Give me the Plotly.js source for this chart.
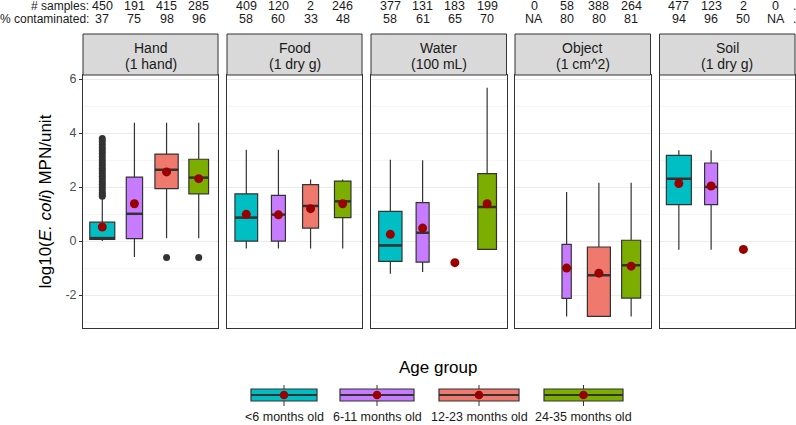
<!DOCTYPE html>
<html>
<head>
<meta charset="utf-8">
<script src="https://cdn.plot.ly/plotly-3.0.1.min.js"></script>
<style>
	html, body { margin: 0; padding: 0; background: #fff; }
	#chart { width: 796px; height: 425px; }
</style>
</head>
<body>
<div id="chart"></div>
<script>
// panels and groups
const panels = ['Hand', 'Food', 'Water', 'Object', 'Soil'];
const panelUnits = ['(1 hand)', '(1 dry g)', '(100 mL)', '(1 cm^2)', '(1 dry g)'];
const ageGroups = ['<6 months old', '6-11 months old', '12-23 months old', '24-35 months old'];

// header counts, one row per panel
const nSamples = [
	['450', '191', '415', '285'],
	['409', '120', '2', '246'],
	['377', '131', '183', '199'],
	['0', '58', '388', '264'],
	['477', '123', '2', '0']
];
const pctContaminated = [
	['37', '75', '98', '96'],
	['58', '60', '33', '48'],
	['58', '61', '65', '70'],
	['NA', '80', '80', '81'],
	['94', '96', '50', 'NA']
];

// box statistics, log10 MPN/unit (null = no box)
const lowerWhisker = [
	[0.0, -0.59, 0.1, 0.1],
	[-0.28, -0.28, -0.28, -0.28],
	[-1.21, -1.15, null, -0.3],
	[null, -2.79, -2.79, -2.79],
	[-0.32, -0.32, null, null]
];
const q1 = [
	[0.06, 0.09, 1.94, 1.75],
	[0.0, 0.0, 0.48, 0.87],
	[-0.75, -0.78, null, -0.31],
	[null, -2.12, -2.79, -2.11],
	[1.35, 1.35, null, null]
];
const median = [
	[0.11, 1.01, 2.64, 2.35],
	[0.87, 0.98, 1.3, 1.47],
	[-0.16, 0.31, null, 1.26],
	[null, -1.0, -1.27, -0.9],
	[2.31, 2.0, null, null]
];
const q3 = [
	[0.7, 2.37, 3.22, 3.03],
	[1.75, 1.69, 2.09, 2.22],
	[1.1, 1.42, null, 2.5],
	[null, -0.12, -0.22, 0.03],
	[3.17, 2.89, null, null]
];
const upperWhisker = [
	[1.6, 4.38, 4.38, 4.38],
	[3.38, 3.38, 2.28, 2.28],
	[3.01, 2.99, null, 5.68],
	[null, 1.82, 2.16, 2.16],
	[3.36, 3.36, null, null]
];
const meanValue = [
	[0.52, 1.38, 2.56, 2.31],
	[0.99, 0.97, 1.2, 1.38],
	[0.25, 0.48, -0.8, 1.38],
	[null, -1.0, -1.19, -0.93],
	[2.13, 2.04, -0.31, null]
];
const outliers = [
	[[3.8, 3.7, 3.58, 3.46, 3.34, 3.24, 3.12, 3.0, 2.9, 2.8, 2.7, 2.6, 2.5, 2.4, 2.3, 2.2, 2.1, 2.0, 1.9, 1.8, 1.72, 1.66], [], [-0.61], [-0.61]],
	[[], [], [], []],
	[[], [], [], []],
	[[], [], [], []],
	[[], [], [], []]
];

// styling
const W = 796, H = 425;
const colors = ['#00BFC4', '#C77CFF', '#F0796D', '#7CAE00'];
const boxWidthPx = [
	[25, 16.3, 23.3, 19.7],
	[22.7, 14, 16, 16.5],
	[23.3, 13, 0, 18.7],
	[0, 9.3, 23, 19],
	[25, 13, 0, 0]
];
const panelX = [[83, 218], [227, 362], [371, 506.5], [515, 650.5], [659.5, 795]];
const panelTop = 75, panelBottom = 328, stripTop = 34;
const keyX = [[251, 317], [340, 414], [439, 519], [544, 623]];
const FONT = 'Liberation Sans, Arial, sans-serif';
const xRange = [0.4, 4.6];
const yRange = [-3.22, 6.15];

function px(x) { return x / W; }
function py(y) { return 1 - y / H; }

function createGraph() {
	let traces = [];
	let layout = {
		width: W,
		height: H,
		margin: {l: 0, r: 0, t: 0, b: 0},
		paper_bgcolor: '#fff',
		plot_bgcolor: '#fff',
		showlegend: false,
		boxmode: 'overlay',
		font: {family: FONT, color: '#1a1a1a'},
		shapes: [],
		annotations: []
	};

	for (let p = 0; p < panels.length; p++) {
		let sfx = p === 0 ? '' : String(p + 1);
		let xa = 'x' + sfx, ya = 'y' + sfx;
		let pxPerUnit = (panelX[p][1] - panelX[p][0]) / (xRange[1] - xRange[0]);

		layout['xaxis' + sfx] = {
			domain: [px(panelX[p][0]), px(panelX[p][1])],
			range: xRange,
			anchor: ya,
			showgrid: false, zeroline: false, showticklabels: false, ticks: '',
			showline: true, mirror: true, linecolor: '#333', linewidth: 1,
			fixedrange: true
		};
		layout['yaxis' + sfx] = {
			domain: [py(panelBottom), py(panelTop)],
			range: yRange,
			anchor: xa,
			tickvals: [-2, 0, 2, 4, 6],
			ticktext: ['-2', '0', '2', '4', '6'],
			showticklabels: p === 0,
			ticks: p === 0 ? 'outside' : '',
			ticklen: 3, tickcolor: '#333', tickwidth: 1,
			tickfont: {family: FONT, size: 12.5, color: '#4d4d4d'},
			showgrid: true, gridcolor: '#ebebeb', gridwidth: 1.1,
			minor: {tickvals: [-3, -1, 1, 3, 5], showgrid: true, gridcolor: '#f2f2f2', gridwidth: 0.7, ticks: ''},
			zeroline: false,
			showline: true, mirror: true, linecolor: '#333', linewidth: 1,
			fixedrange: true
		};

		// strip
		layout.shapes.push({
			type: 'rect', xref: 'paper', yref: 'paper', layer: 'above',
			x0: px(panelX[p][0]), x1: px(panelX[p][1]), y0: py(panelTop), y1: py(stripTop),
			fillcolor: '#d9d9d9', line: {color: '#333', width: 1}
		});
		let cx = px((panelX[p][0] + panelX[p][1]) / 2);
		layout.annotations.push({
			xref: 'paper', yref: 'paper', x: cx, y: py(48), text: panels[p], showarrow: false,
			xanchor: 'center', yanchor: 'middle', font: {size: 14, color: '#1a1a1a'}
		});
		layout.annotations.push({
			xref: 'paper', yref: 'paper', x: cx, y: py(64), text: panelUnits[p], showarrow: false,
			xanchor: 'center', yanchor: 'middle', font: {size: 14, color: '#1a1a1a'}
		});

		for (let g = 0; g < ageGroups.length; g++) {
			let xpos = g + 1;
			// header numbers
			layout.annotations.push({
				xref: xa, yref: 'paper', x: xpos, y: py(6), text: nSamples[p][g], showarrow: false,
				xanchor: 'center', yanchor: 'middle', font: {size: 12.5, color: '#1a1a1a'}
			});
			layout.annotations.push({
				xref: xa, yref: 'paper', x: xpos, y: py(19), text: pctContaminated[p][g], showarrow: false,
				xanchor: 'center', yanchor: 'middle', font: {size: 12.5, color: '#1a1a1a'}
			});

			if (q1[p][g] !== null) {
				let w = boxWidthPx[p][g] / pxPerUnit;
				traces.push({
					type: 'box', xaxis: xa, yaxis: ya,
					x: [xpos],
					q1: [q1[p][g]], median: [median[p][g]], q3: [q3[p][g]],
					lowerfence: [lowerWhisker[p][g]], upperfence: [upperWhisker[p][g]],
					width: w, whiskerwidth: 0, boxpoints: false,
					fillcolor: colors[g], line: {color: '#333', width: 1.2},
					hoverinfo: 'skip'
				});
				traces.push({
					type: 'scatter', mode: 'lines', xaxis: xa, yaxis: ya,
					x: [xpos - w / 2, xpos + w / 2], y: [median[p][g], median[p][g]],
					line: {color: '#333', width: 2.5}, hoverinfo: 'skip'
				});
			}
			if (outliers[p][g].length) {
				traces.push({
					type: 'scatter', mode: 'markers', xaxis: xa, yaxis: ya,
					x: outliers[p][g].map(function() { return xpos; }), y: outliers[p][g],
					marker: {color: '#333', size: 7}, hoverinfo: 'skip'
				});
			}
		}
		let mx = [], my = [];
		for (let g = 0; g < ageGroups.length; g++) {
			if (meanValue[p][g] !== null) {
				mx.push(g + 1);
				my.push(meanValue[p][g]);
			}
		}
		traces.push({
			type: 'scatter', mode: 'markers', xaxis: xa, yaxis: ya,
			x: mx, y: my, marker: {color: '#990000', size: 9}, hoverinfo: 'skip'
		});
	}

	// header row labels
	layout.annotations.push({
		xref: 'paper', yref: 'paper', x: px(91), y: py(6), text: '# samples:', showarrow: false,
		xanchor: 'right', yanchor: 'middle', font: {size: 12, color: '#1a1a1a'}
	});
	layout.annotations.push({
		xref: 'paper', yref: 'paper', x: px(91), y: py(19), text: '% contaminated:', showarrow: false,
		xanchor: 'right', yanchor: 'middle', font: {size: 12, color: '#1a1a1a'}
	});
	[6, 19].forEach(function(yy) {
		layout.annotations.push({
			xref: 'paper', yref: 'paper', x: px(791), y: py(yy), text: '.', showarrow: false,
			xanchor: 'left', yanchor: 'middle', font: {size: 12.5, color: '#1a1a1a'}
		});
	});

	// y axis title
	layout.annotations.push({
		xref: 'paper', yref: 'paper', x: px(45), y: py((panelTop + panelBottom) / 2),
		text: 'log10(<i>E. coli</i>) MPN/unit', textangle: -90, showarrow: false,
		xanchor: 'center', yanchor: 'middle', font: {size: 17, color: '#000'}
	});

	// legend, drawn by hand so labels sit under the keys
	layout.annotations.push({
		xref: 'paper', yref: 'paper', x: px(438), y: py(367), text: 'Age group', showarrow: false,
		xanchor: 'center', yanchor: 'middle', font: {size: 17, color: '#000'}
	});
	for (let g = 0; g < ageGroups.length; g++) {
		let x0 = keyX[g][0], x1 = keyX[g][1], c = (x0 + x1) / 2;
		layout.shapes.push({type: 'line', xref: 'paper', yref: 'paper',
			x0: px(c), x1: px(c), y0: py(385), y1: py(406), line: {color: '#333', width: 1}});
		layout.shapes.push({type: 'rect', xref: 'paper', yref: 'paper',
			x0: px(x0), x1: px(x1), y0: py(401), y1: py(389), fillcolor: colors[g], line: {color: '#333', width: 1.2}});
		layout.shapes.push({type: 'line', xref: 'paper', yref: 'paper',
			x0: px(x0), x1: px(x1), y0: py(395), y1: py(395), line: {color: '#333', width: 2}});
		layout.shapes.push({type: 'circle', xref: 'paper', yref: 'paper',
			x0: px(c - 4.3), x1: px(c + 4.3), y0: py(399.3), y1: py(390.7), fillcolor: '#990000', line: {width: 0}});
		layout.annotations.push({
			xref: 'paper', yref: 'paper', x: px(c), y: py(417), text: ageGroups[g], showarrow: false,
			xanchor: 'center', yanchor: 'middle', font: {size: 12.5, color: '#1a1a1a'}
		});
	}

	Plotly.newPlot('chart', traces, layout, {staticPlot: true, displayModeBar: false});
}

createGraph();
</script>
</body>
</html>
